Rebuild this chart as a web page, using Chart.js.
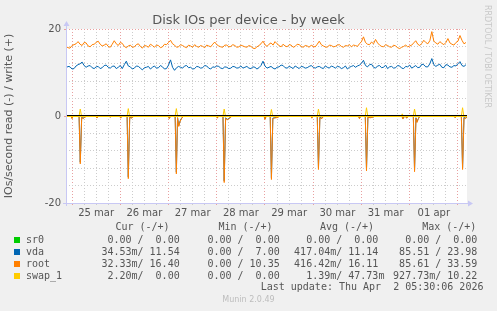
<!DOCTYPE html>
<html>
<head>
<meta charset="utf-8">
<script src="https://cdn.jsdelivr.net/npm/chart.js@4/dist/chart.umd.min.js"></script>
<style>
  body { margin: 0; background: #f0f0f0; }
  #wrap { position: relative; width: 497px; height: 311px; overflow: hidden; font-family: "DejaVu Sans", sans-serif; color: #555; }
  canvas { position: absolute; left: 0; top: 0; }
  .t { position: absolute; white-space: pre; }
  .mono { font-family: "DejaVu Sans Mono", monospace; font-size: 10px; line-height: 12px; color: #555; }
  .sq { position: absolute; width: 6px; height: 6px; }
</style>
</head>
<body>
<div id="wrap">
  <canvas id="myChart" width="497" height="311"></canvas>
  <div class="t" id="title" style="left:0;width:497px;top:12px;text-align:center;font-size:13px;line-height:15px;">Disk IOs per device - by week</div>
  <div class="t" style="left:482px;top:5px;font-size:8px;line-height:10px;color:#c8c8c8;writing-mode:vertical-rl;">RRDTOOL / TOBI OETIKER</div>
  <div id="legend"></div>
  <div class="t" style="left:0;width:497px;top:295px;text-align:center;font-size:8px;line-height:10px;color:#bdbdbd;">Munin 2.0.49</div>
</div>
<script>
// hours counted from 25 mar 00:00
const startHour = -3;
const endHour = 196.5;
const dayLabels = ['25 mar', '26 mar', '27 mar', '28 mar', '29 mar', '30 mar', '31 mar', '01 apr'];
const yTickLabels = [-20, -10, 0, 10, 20];

// write side (+), one value every hour
const vdaWrite = [
  11.0, 11.4, 11.3, 10.8, 10.9, 11.5, 11.8, 12.0, 12.4, 11.6, 11.2, 11.5, 11.6, 11.1, 10.9, 11.3, 11.4, 10.9, 11.1, 11.6,
  11.7, 11.2, 11.0, 11.4, 11.5, 10.9, 11.2, 11.6, 10.9, 11.8, 12.6, 11.5, 11.3, 10.8, 11.0, 11.5, 11.4, 11.0, 10.6, 11.1,
  11.2, 11.4, 10.8, 11.2, 11.5, 11.0, 11.1, 11.6, 11.3, 10.8, 10.9, 11.7, 12.9, 11.2, 10.5, 11.1, 11.4, 11.2, 11.0, 11.5,
  11.6, 11.1, 11.2, 10.8, 10.9, 11.4, 11.3, 11.0, 11.1, 11.6, 11.5, 11.0, 10.8, 11.3, 11.2, 11.5, 11.4, 11.0, 10.9, 11.3,
  11.2, 10.9, 11.0, 11.4, 11.3, 11.0, 11.1, 11.5, 11.0, 11.2, 11.4, 11.0, 10.9, 11.3, 11.2, 10.8, 11.1, 11.6, 12.6, 11.5,
  11.0, 11.2, 11.4, 11.0, 10.8, 11.2, 11.3, 11.7, 11.6, 11.1, 11.0, 11.4, 11.2, 10.9, 11.5, 11.2, 10.9, 11.4, 11.3, 11.0,
  11.1, 11.4, 11.6, 11.2, 11.0, 11.3, 11.4, 11.1, 10.9, 11.5, 11.2, 11.0, 11.5, 11.3, 11.0, 11.4, 11.3, 10.9, 11.1, 11.5,
  10.8, 11.2, 11.4, 11.6, 11.2, 11.5, 11.7, 12.1, 12.8, 11.6, 11.3, 11.8, 11.9, 11.2, 11.0, 11.5, 11.6, 11.1, 11.2, 11.7,
  10.9, 11.3, 11.4, 11.0, 11.1, 11.6, 11.5, 11.0, 10.9, 11.4, 11.3, 11.7, 11.0, 11.3, 11.6, 11.1, 11.2, 11.9, 11.8, 11.3,
  11.3, 12.0, 13.2, 11.8, 11.4, 11.7, 11.9, 11.2, 11.1, 11.8, 11.7, 11.3, 11.2, 11.6, 11.5, 12.0, 12.5, 11.6, 11.4, 11.8
];
const rootWrite = [
  16.0, 15.7, 15.6, 16.2, 16.4, 16.6, 17.1, 16.5, 16.2, 16.9, 16.8, 16.1, 15.9, 16.4, 16.5, 16.9, 17.2, 16.5, 16.1, 16.3,
  16.6, 16.0, 15.8, 16.5, 17.3, 16.6, 16.2, 16.9, 16.7, 16.0, 15.7, 16.1, 16.3, 15.8, 15.9, 16.4, 16.6, 16.0, 15.6, 16.2,
  16.1, 15.8, 16.5, 16.2, 15.8, 16.3, 16.2, 15.7, 15.9, 16.5, 16.4, 16.9, 17.4, 16.6, 16.3, 15.8, 15.9, 16.4, 16.2, 15.9,
  15.7, 16.3, 16.1, 15.8, 16.4, 16.0, 15.8, 16.2, 16.0, 15.7, 16.3, 16.1, 15.9, 16.5, 17.0, 16.4, 16.1, 15.9, 15.8, 16.3,
  16.3, 15.9, 16.0, 16.4, 16.2, 15.8, 15.9, 16.3, 16.1, 15.9, 15.8, 16.2, 16.0, 15.6, 15.5, 15.9, 16.2, 16.6, 17.2, 16.4,
  16.0, 16.5, 16.8, 16.3, 17.1, 16.6, 16.2, 15.9, 16.5, 16.1, 15.9, 16.4, 16.3, 15.8, 16.0, 16.5, 16.4, 16.0, 15.8, 16.2,
  16.1, 15.8, 16.3, 16.0, 15.9, 16.5, 17.2, 16.4, 16.1, 15.9, 15.8, 16.3, 16.2, 15.9, 16.0, 16.3, 16.4, 16.0, 15.8, 16.2,
  16.1, 16.4, 15.9, 16.3, 16.2, 16.0, 16.6, 17.1, 18.2, 16.9, 16.5, 16.4, 17.0, 16.6, 17.6, 16.8, 16.3, 16.0, 15.9, 16.4,
  16.2, 15.9, 15.8, 16.3, 16.1, 15.7, 15.5, 15.8, 16.0, 16.3, 15.9, 16.1, 16.3, 16.8, 17.3, 16.5, 16.2, 16.7, 17.4, 16.9,
  16.6, 17.3, 19.4, 17.2, 16.8, 16.5, 17.1, 16.7, 16.4, 16.9, 17.8, 16.8, 16.5, 16.3, 16.9, 17.2, 18.5, 17.4, 16.6, 16.9
];

// read side (-), spikes every night around 04:00
const readHours = [
  -3,
  -0.5, 0, 0.6,
  3.5, 4.1, 4.8, 5.5, 6.5, 8,
  12, 12.4, 13,
  18.5, 19, 19.6,
  23.7, 24.2, 24.8,
  27.4, 28.0, 28.7, 29.5, 31,
  47.9, 48.4, 49,
  51.3, 51.9, 52.5, 53.1, 53.8, 54.6, 55.5,
  71.8, 72.3, 72.9,
  75.1, 75.7, 76.4, 77.2, 78.8, 79.6,
  95.5, 96, 96.6,
  98.6, 99.2, 99.9, 100.6, 102.5, 103.3,
  118.8, 119.3, 119.9,
  122, 122.6, 123.3, 124.3, 125.2,
  142.5, 143, 143.6,
  145.9, 146.5, 147.2, 148.5, 150, 150.8,
  164.1, 164.6, 165.5, 166.6, 167.3,
  169.8, 170.4, 171.1, 171.6, 172.2, 173,
  190.1, 190.6, 191.2,
  193.7, 194.3, 195.0, 195.6, 196.5
];
const rootRead = [
  0,
  0, -0.6, 0,
  0, -11.0, -0.3, -0.6, -0.2, 0,
  0, -0.4, 0,
  0, -0.3, 0,
  0, -0.5, 0,
  0, -14.4, -0.3, -0.5, 0,
  0, -0.6, 0,
  0, -13.3, -0.4, -2.4, -1.2, -0.5, 0,
  0, -0.5, 0,
  0, -15.3, -0.5, -0.9, -0.4, 0,
  0, -0.8, 0,
  0, -14.6, -0.6, -0.5, -0.3, 0,
  0, -0.5, 0,
  0, -12.3, -0.4, -0.6, 0,
  0, -0.6, 0,
  0, -12.6, -0.3, -0.4, -0.2, 0,
  0, -0.7, 0, -0.5, 0,
  0, -12.8, -0.5, -1.5, -0.8, 0,
  0, -0.4, 0,
  0, -12.3, -0.4, -0.6, -0.3
];
const vdaRead = [
  0,
  0, -0.5, 0,
  0, -10.6, -0.3, -0.5, -0.2, 0,
  0, -0.3, 0,
  0, -0.2, 0,
  0, -0.4, 0,
  0, -14.0, -0.3, -0.4, 0,
  0, -0.5, 0,
  0, -12.9, -0.4, -2.2, -1.1, -0.4, 0,
  0, -0.4, 0,
  0, -14.9, -0.4, -0.8, -0.3, 0,
  0, -0.7, 0,
  0, -14.2, -0.5, -0.4, -0.2, 0,
  0, -0.4, 0,
  0, -11.9, -0.3, -0.5, 0,
  0, -0.5, 0,
  0, -12.2, -0.3, -0.3, -0.2, 0,
  0, -0.6, 0, -0.4, 0,
  0, -12.4, -0.4, -1.3, -0.7, 0,
  0, -0.3, 0,
  0, -11.9, -0.3, -0.5, -0.2
];

// swap_1 write (+)
const swapHours = [
  -3, 3.5, 4.1, 4.7, 27.4, 28, 28.6, 51.3, 51.9, 52.5, 75.1, 75.7, 76.3,
  98.6, 99.2, 99.8, 122, 122.6, 123.2, 145.9, 146.5, 147.1, 163.8, 164.3, 164.8,
  169.8, 170.4, 171, 193.7, 194.3, 194.9, 196.5
];
const swapWrite = [
  0, 0, 1.6, 0, 0, 1.7, 0, 0, 1.7, 0, 0, 1.6, 0,
  0, 1.5, 0, 0, 1.6, 0, 0, 1.9, 0, 0, 0.5, 0,
  0, 1.6, 0, 0, 1.9, 0, 0
];
const flatHours = [startHour, endHour];
const flatZero = [0, 0];

// legend table
const legendNames = ['sr0', 'vda', 'root', 'swap_1'];
const legendColors = ['#00cc00', '#0066b3', '#ff8000', '#ffcc00'];
const curVals = ['  0.00 /  0.00 ', ' 34.53m/ 11.54 ', ' 32.33m/ 16.40 ', '  2.20m/  0.00 '];
const minVals = ['  0.00 /  0.00 ', '  0.00 /  7.00 ', '  0.00 / 10.35 ', '  0.00 /  0.00 '];
const avgVals = ['  0.00 /  0.00 ', '417.04m/ 11.14 ', '416.42m/ 16.11 ', '  1.39m/ 47.73m'];
const maxVals = ['  0.00 /  0.00 ', ' 85.51 / 23.98 ', ' 85.61 / 33.59 ', '927.73m/ 10.22 '];

const writeHours = vdaWrite.map((v, i) => startHour + i);
const pts = (xs, ys) => ys.map((v, i) => ({ x: xs[i], y: v }));

// legend as html text
let html = '';
const heads = [['Cur (-/+)', 115.4], ['Min (-/+)', 218.4], ['Avg (-/+)', 319.9], ['Max (-/+)', 422.2]];
heads.forEach(h => {
  html += `<div class="t mono" style="left:${h[1]}px;top:221px">${h[0]}</div>`;
});
const colRight = [185.7, 285.7, 384.4, 483.4];
legendNames.forEach((name, i) => {
  const c = 239.8 + i * 11.9;
  html += `<div class="sq" style="left:14px;top:${c - 3}px;background:${legendColors[i]}"></div>`;
  html += `<div class="t mono" style="left:26px;top:${c - 6}px">${name}</div>`;
  [curVals, minVals, avgVals, maxVals].forEach((col, j) => {
    html += `<div class="t mono" style="right:${497 - colRight[j]}px;top:${c - 6}px;text-align:right">${col[i]}</div>`;
  });
});
html += `<div class="t mono" style="left:260.7px;top:281.4px">Last update: Thu Apr  2 05:30:06 2026</div>`;
document.querySelector('#legend').innerHTML = html;

const RED = '#e8a0a0';
const GREY = '#cccccc';
const AXIS = '#c8c8f4';

const muninBits = {
  id: 'muninBits',
  beforeDraw(chart) {
    const { ctx, chartArea: a } = chart;
    ctx.save();
    ctx.fillStyle = '#ffffff';
    ctx.fillRect(a.left, a.top, a.right - a.left, a.bottom - a.top);
    ctx.restore();
  },
  afterDatasetsDraw(chart) {
    const { ctx, chartArea: a, scales } = chart;
    const z = Math.round(scales.y.getPixelForValue(0)) - 0.5;
    ctx.save();
    ctx.strokeStyle = '#000';
    ctx.lineWidth = 1;
    ctx.beginPath();
    ctx.moveTo(a.left, z);
    ctx.lineTo(a.right, z);
    ctx.stroke();
    // axis lines with arrows
    const b = a.bottom + 0.5;
    const l = a.left + 0.5;
    ctx.strokeStyle = AXIS;
    ctx.fillStyle = AXIS;
    ctx.beginPath();
    ctx.moveTo(a.left - 3, b);
    ctx.lineTo(a.right + 2, b);
    ctx.moveTo(l, a.bottom + 3);
    ctx.lineTo(l, a.top - 3);
    ctx.stroke();
    ctx.beginPath();
    ctx.moveTo(a.right + 1, b - 3);
    ctx.lineTo(a.right + 6, b);
    ctx.lineTo(a.right + 1, b + 3);
    ctx.closePath();
    ctx.fill();
    ctx.beginPath();
    ctx.moveTo(l - 3, a.top - 3);
    ctx.lineTo(l, a.top - 8);
    ctx.lineTo(l + 3, a.top - 3);
    ctx.closePath();
    ctx.fill();
    ctx.restore();
  }
};

Chart.defaults.font.family = 'DejaVu Sans';
Chart.defaults.font.size = 10;
Chart.defaults.color = '#555';

const line = (label, data, color, order, width) => ({
  label: label,
  data: data,
  borderColor: color,
  backgroundColor: color,
  borderWidth: width || 1,
  pointRadius: 0,
  tension: 0,
  order: order
});

const ctx = document.getElementById('myChart').getContext('2d');
const myChart = new Chart(ctx, {
  type: 'line',
  data: {
    datasets: [
      line('swap_1 write', pts(swapHours, swapWrite), '#ffcc00', 0),
      line('swap_1 read', pts(flatHours, flatZero), '#ffcc00', 0, 2),
      line('root write', pts(writeHours, rootWrite), '#ff8000', 1),
      line('root read', pts(readHours, rootRead), '#ff8000', 1),
      line('vda write', pts(writeHours, vdaWrite), '#0066b3', 2),
      line('vda read', pts(readHours, vdaRead), '#0066b3', 2),
      line('sr0 write', pts(flatHours, flatZero), '#00cc00', 3),
      line('sr0 read', pts(flatHours, flatZero), '#00cc00', 3)
    ]
  },
  options: {
    responsive: false,
    animation: false,
    layout: { padding: { top: 29, right: 30, bottom: 88, left: 0 } },
    plugins: { legend: { display: false }, tooltip: { enabled: false } },
    scales: {
      x: {
        type: 'linear',
        min: startHour,
        max: endHour,
        afterBuildTicks: s => {
          const t = [];
          for (let h = 0; h <= 192; h += 6) t.push({ value: h });
          s.ticks = t;
        },
        afterFit: s => { s.height = 20; },
        ticks: {
          autoSkip: false,
          maxRotation: 0,
          padding: 2,
          color: '#555',
          callback: v => (v % 24 === 12 ? dayLabels[(v - 12) / 24] : '')
        },
        grid: {
          color: c => (c.tick && c.tick.value % 24 === 0 ? RED : GREY),
          tickColor: c => (c.tick && c.tick.value % 24 === 0 ? RED : GREY),
          tickLength: 2,
          lineWidth: 1
        },
        border: { display: false, dash: [1, 2] }
      },
      y: {
        min: -20,
        max: 20,
        afterBuildTicks: s => {
          const t = [];
          for (let v = -20; v <= 20; v += 2) t.push({ value: v });
          s.ticks = t;
        },
        afterFit: s => { s.width = 66; },
        ticks: {
          padding: 3,
          color: '#555',
          callback: v => (yTickLabels.includes(v) ? String(v) : '')
        },
        grid: {
          color: c => {
            const v = c.tick ? c.tick.value : 1;
            if (v === 0 || v === -20) return 'rgba(0,0,0,0)';
            return v % 10 === 0 ? RED : GREY;
          },
          tickColor: c => (c.tick && c.tick.value % 10 === 0 ? RED : 'rgba(0,0,0,0)'),
          tickLength: 2
        },
        border: { display: false, dash: [1, 2] },
        title: {
          display: true,
          text: 'IOs/second read (-) / write (+)',
          color: '#555',
          font: { size: 11 },
          padding: { top: 3, bottom: 0 }
        }
      }
    }
  },
  plugins: [muninBits]
});
</script>
</body>
</html>
